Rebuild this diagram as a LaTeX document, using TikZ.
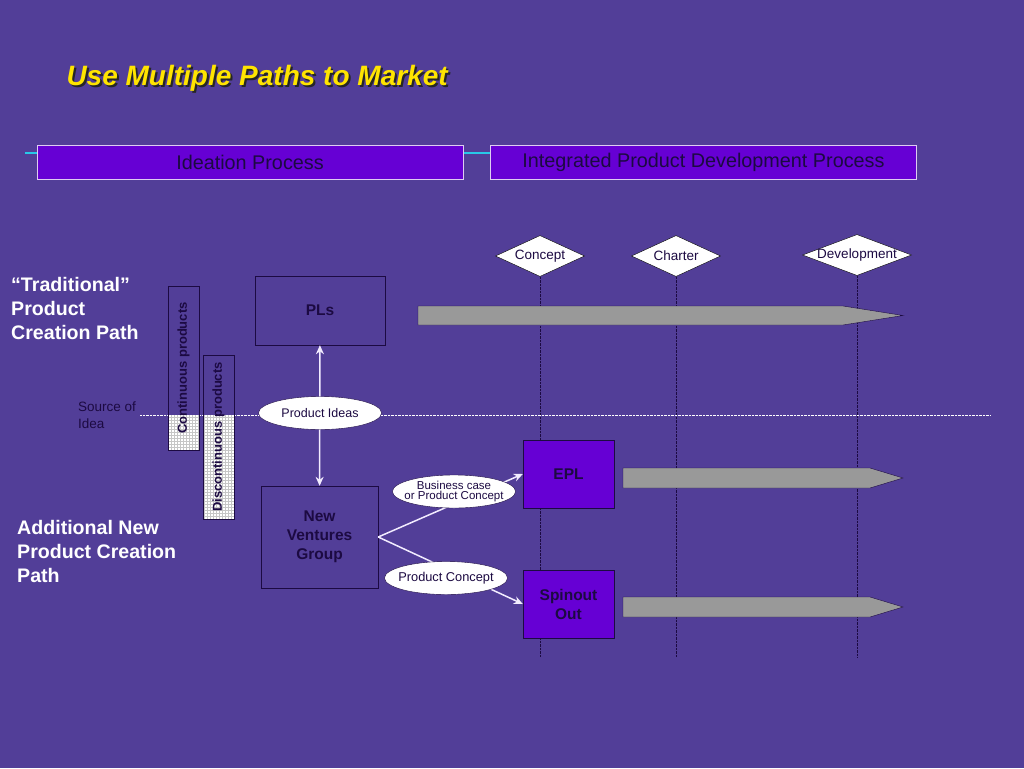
\documentclass[tikz,border=0pt]{standalone}
\usepackage{fontspec}
\setmainfont{Liberation Sans}
\usetikzlibrary{shapes.geometric,patterns,arrows.meta}

\definecolor{slidebg}{RGB}{82,62,152}
\definecolor{phaseviolet}{RGB}{102,0,212}
\definecolor{phaseedge}{RGB}{222,204,242}
\definecolor{ink}{RGB}{28,10,66}
\definecolor{timeline}{RGB}{40,200,232}
\definecolor{bargray}{RGB}{153,153,153}
\definecolor{titleyellow}{RGB}{255,228,0}
\definecolor{flowwhite}{RGB}{242,236,255}

\begin{document}
\begin{tikzpicture}[x=1pt, y=-1pt,
  every node/.style={font=\fontsize{12.5}{14}\selectfont, text=ink},
  phase/.style={draw=phaseedge, thick, fill=phaseviolet, minimum width=426, minimum height=34,
    inner sep=0pt, font=\fontsize{19.8}{22}\selectfont},
  gate/.style={diamond, draw=black, fill=white, inner sep=0pt, minimum height=41,
    font=\fontsize{13.5}{15}\selectfont},
  group/.style={draw=ink, inner sep=0pt, align=center, font=\bfseries\fontsize{15.5}{19}\selectfont},
  outlet/.style={group, fill=phaseviolet, minimum width=91, minimum height=68},
  bubble/.style={ellipse, draw=ink, fill=white, inner xsep=-6pt, inner ysep=0pt,
    minimum width=123, minimum height=33},
  bar/.style={draw=ink, rotate=90, minimum height=31, minimum width=164, inner sep=0pt,
    font=\bfseries\fontsize{13}{15}\selectfont},
  checker/.style={preaction={fill=white}, pattern=grid, pattern color=gray!45},
  pathlabel/.style={anchor=north west, align=left, text=white, inner sep=0pt,
    font=\bfseries\fontsize{19.6}{24}\selectfont},
  milestone/.style={ink, densely dotted, thin},
  flow/.style={flowwhite, line width=1.5pt, -{Stealth[length=9pt,width=8pt]}},
  twoway/.style={flow, {Stealth[length=9pt,width=8pt]}-{Stealth[length=9pt,width=8pt]}},
  blockarrow/.style={draw=ink, fill=bargray}]

  \fill[slidebg] (0,0) rectangle (1024,768);

  % title
  \node[anchor=west, text=black!85, font=\bfseries\itshape\fontsize{28}{32}\selectfont] (shadow) at (65,80) {Use Multiple Paths to Market};
  \node[anchor=west, text=titleyellow, font=\bfseries\itshape\fontsize{28}{32}\selectfont] (title) at (63,78) {Use Multiple Paths to Market};

  % process headers
  \coordinate (tlstart) at (25,153);
  \coordinate (tlend) at (490,153);
  \draw[timeline, line width=2.5pt] (tlstart) -- (tlend);
  \node[phase] (ideation) at (250,162) {Ideation Process};
  \node[phase] (ipdp) at (703.5,162) {Integrated Product Development Process};

  % gates
  \node[gate, minimum width=89] (concept) at (540,256) {\makebox[0pt]{Concept}};
  \node[gate, minimum width=89] (charter) at (676,256) {\makebox[0pt]{Charter}};
  \node[gate, minimum width=109] (develop) at (857,255) {\makebox[0pt]{Development}};
  \coordinate (conceptend) at (540,657);
  \coordinate (charterend) at (676,657);
  \coordinate (developend) at (857,657);
  \draw[milestone] (concept.south) -- (conceptend);
  \draw[milestone] (charter.south) -- (charterend);
  \draw[milestone] (develop.south) -- (developend);

  % path labels
  \node[pathlabel] (traditional) at (11,277) {``Traditional''\\Product\\Creation Path};
  \node[pathlabel] (additional) at (17,520) {Additional New\\Product Creation\\Path};

  % source of idea
  \coordinate (ideastart) at (140,415);
  \coordinate (ideaend) at (990,415);
  \draw[white, densely dotted] (ideastart) -- (ideaend);
  \node[anchor=west, align=left, inner sep=0pt, font=\fontsize{13.5}{17}\selectfont] (source) at (78,415) {Source of\\Idea};

  \fill[checker] (168,415) rectangle (199,450);
  \node[bar] (continuous) at (183.5,368) {Continuous products};
  \fill[checker] (203,415) rectangle (234,519);
  \node[bar] (discontinuous) at (218.5,437) {Discontinuous products};

  % groups
  \node[group, minimum width=130, minimum height=69] (pls) at (320,310.5) {PLs};
  \node[group, minimum width=117, minimum height=102] (nvg) at (319.5,537) {New\\Ventures\\Group};
  \node[outlet] (epl) at (568.5,474) {EPL};
  \node[outlet] (spinout) at (568.5,604) {Spinout\\Out};

  \draw[twoway] (pls) -- (nvg);
  \draw[flow] (nvg.east) -- (epl.west);
  \draw[flow] (nvg.east) -- (spinout.west);

  \node[bubble] (ideas) at (320,413) {Product Ideas};
  \node[bubble, align=center, font=\fontsize{11.5}{10}\selectfont] (business) at (454,491.5) {Business case\\or Product Concept};
  \node[bubble, font=\fontsize{12.8}{14}\selectfont] (prodconcept) at (446,578) {Product Concept};

  % development arrows
  \draw[blockarrow] (418,306) -- (843,306) -- (903,315.5) -- (843,325) -- (418,325) -- cycle;
  \draw[blockarrow] (623,468) -- (870,468) -- (903,478) -- (870,488) -- (623,488) -- cycle;
  \draw[blockarrow] (623,597) -- (870,597) -- (903,607) -- (870,617) -- (623,617) -- cycle;
\end{tikzpicture}
\end{document}
